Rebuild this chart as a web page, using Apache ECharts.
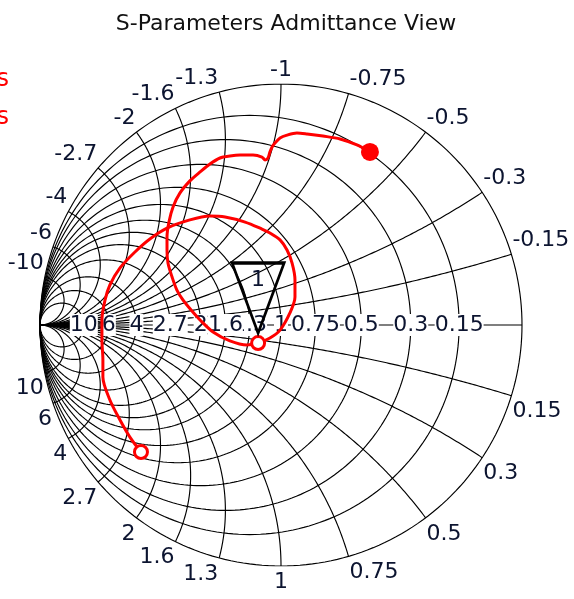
<!DOCTYPE html>
<html><head><meta charset="utf-8">
<script src="https://cdn.jsdelivr.net/npm/echarts@6/dist/echarts.min.js"></script>
<style>html,body{margin:0;padding:0;background:#fff}#c{width:574px;height:599px}</style>
</head><body><div id="c"></div>
<script>
const chartTitle = 'S-Parameters Admittance View';
const legendNames = ['S11 Ohms', 'S22 Ohms'];
const conductanceTicks = [0.15, 0.3, 0.5, 0.75, 1, 1.3, 1.6, 2, 2.7, 4, 6, 10];
const susceptanceTicks = [0.15, 0.3, 0.5, 0.75, 1, 1.3, 1.6, 2, 2.7, 4, 6, 10];
// trace 1 (reflection coefficient, real / imaginary)
const trace1Re = [0.369,0.315,0.245,0.174,0.108,0.066,0.025,-0.004,-0.025,-0.037,-0.046,-0.054,-0.066,-0.079,-0.116,-0.170,-0.212,-0.253,-0.295,-0.336,-0.378,-0.419,-0.448,-0.465,-0.473,-0.473,-0.469,-0.452,-0.432,-0.407,-0.373,-0.336,-0.282,-0.212,-0.141,-0.095];
const trace1Im = [0.718,0.747,0.772,0.784,0.793,0.797,0.788,0.776,0.755,0.739,0.718,0.693,0.685,0.697,0.705,0.705,0.701,0.693,0.668,0.635,0.598,0.548,0.490,0.427,0.365,0.311,0.257,0.199,0.145,0.104,0.062,0.021,-0.029,-0.066,-0.083,-0.075];
// trace 2
const trace2Re = [-0.095,-0.046,-0.004,0.037,0.058,0.058,0.046,0.025,-0.004,-0.046,-0.079,-0.149,-0.232,-0.295,-0.378,-0.473,-0.544,-0.606,-0.668,-0.710,-0.730,-0.743,-0.743,-0.739,-0.739,-0.710,-0.668,-0.627,-0.581];
const trace2Im = [-0.075,-0.054,-0.021,0.050,0.116,0.187,0.257,0.311,0.353,0.382,0.398,0.427,0.448,0.452,0.436,0.402,0.357,0.303,0.237,0.166,0.104,0.021,-0.062,-0.145,-0.216,-0.311,-0.394,-0.465,-0.527];
// marker 1
const markerRe = [-0.095];
const markerIm = [-0.075];
const markerLabels = ['1'];

const FONT = 'DejaVu Sans';
const TXT = '#0c1430';

function gam(g, b) {
  const d = (1 + g) * (1 + g) + b * b;
  return [(1 - g * g - b * b) / d, (-2 * b) / d];
}
function fmt(v) { return String(v); }

function gCircle(g, b1, b2) {
  const cx = -g / (1 + g), r = 1 / (1 + g);
  const ang = b => {
    if (b === -Infinity) return Math.PI;
    if (b === Infinity) return -Math.PI;
    const p = gam(g, b); return Math.atan2(p[1], p[0] - cx);
  };
  const a1 = ang(b1), a2 = ang(b2), n = 240, pts = [];
  for (let i = 0; i <= n; i++) { const a = a1 + (a2 - a1) * i / n; pts.push([cx + r * Math.cos(a), r * Math.sin(a)]); }
  return pts;
}
function bArc(b, g1, g2) {
  const cx = -1, cy = -1 / b, r = 1 / Math.abs(b);
  const ang = g => {
    if (g === Infinity) return b > 0 ? Math.PI / 2 : -Math.PI / 2;
    const p = gam(g, b); return Math.atan2(p[1] - cy, p[0] - cx);
  };
  const a1 = ang(g1), a2 = ang(g2), n = 200, pts = [];
  for (let i = 0; i <= n; i++) { const a = a1 + (a2 - a1) * i / n; pts.push([cx + r * Math.cos(a), cy + r * Math.sin(a)]); }
  return pts;
}

const gridLines = [];
gridLines.push({ coords: gCircle(0, -Infinity, Infinity) });
gridLines.push({ coords: [[-1, 0], [1, 0]] });
conductanceTicks.forEach(g => gridLines.push({ coords: gCircle(g, -Infinity, Infinity) }));
susceptanceTicks.forEach(b => {
  gridLines.push({ coords: bArc(b, 0, Infinity) });
  gridLines.push({ coords: bArc(-b, 0, Infinity) });
});

const edgeLabels = [];
susceptanceTicks.forEach(b => {
  [-b, b].forEach(v => {
    const p = gam(0, v);
    const align = Math.abs(p[0]) < 0.08 ? 'center' : (p[0] > 0 ? 'left' : 'right');
    const top = p[1] > 0;
    edgeLabels.push({
      value: p, name: fmt(v),
      label: { align: align, verticalAlign: top ? 'bottom' : 'top', offset: [align === 'left' ? 1 : (align === 'right' ? -1 : 0), top ? -3 : 5] }
    });
  });
});
const axisLabels = conductanceTicks.map(g => ({ value: gam(g, 0), name: fmt(g) }));

const chart = echarts.init(document.getElementById('c'), null, { renderer: 'canvas' });
const R = 241, CX = 281, CY = 325;
const lbl = { fontFamily: FONT, fontSize: 22, color: TXT, textBorderWidth: 0, textShadowBlur: 0, opacity: 1 };
const solid = { opacity: 1 };
chart.setOption({
  animation: false,
  backgroundColor: '#ffffff',
  title: { text: chartTitle, left: CX, textAlign: 'center', top: 8, textStyle: { fontFamily: FONT, fontSize: 22, fontWeight: 'normal', color: '#111' } },
  graphic: legendNames.map((n, i) => ({ type: 'text', right: 565, top: 68 + i * 38, style: { text: n, fill: '#ff0000', font: '24px "DejaVu Sans"' } })),
  grid: { left: CX - R, top: CY - R, width: 2 * R, height: 2 * R },
  xAxis: { type: 'value', min: -1, max: 1, show: false },
  yAxis: { type: 'value', min: -1, max: 1, show: false },
  series: [
    { type: 'lines', coordinateSystem: 'cartesian2d', polyline: true, silent: true, z: 1,
      lineStyle: { color: '#000', width: 1.15, opacity: 1 }, data: gridLines },
    { type: 'scatter', symbolSize: 0, z: 3, silent: true, itemStyle: solid,
      label: Object.assign({ show: true, position: 'inside', formatter: '{b}', backgroundColor: '#fff', padding: [0, 0] }, lbl),
      data: axisLabels },
    { type: 'scatter', symbolSize: 0, z: 3, silent: true, itemStyle: solid,
      label: Object.assign({ show: true, position: 'inside', formatter: '{b}' }, lbl),
      data: edgeLabels },
    { name: legendNames[0], type: 'line', z: 5, showSymbol: false, smooth: 0.3, lineStyle: { color: '#ff0000', width: 3 },
      data: trace1Re.map((v, i) => [v, trace1Im[i]]) },
    { name: legendNames[1], type: 'line', z: 5, showSymbol: false, smooth: 0.3, lineStyle: { color: '#ff0000', width: 3 },
      data: trace2Re.map((v, i) => [v, trace2Im[i]]) },
    { type: 'scatter', z: 6, symbol: 'circle', symbolSize: 18, itemStyle: { color: '#ff0000', opacity: 1 },
      data: [[trace1Re[0], trace1Im[0]]] },
    { type: 'scatter', z: 6, symbol: 'circle', symbolSize: 13, itemStyle: { color: '#fff', borderColor: '#ff0000', borderWidth: 3, opacity: 1 },
      data: [[trace2Re[0], trace2Im[0]], [trace2Re[trace2Re.length - 1], trace2Im[trace2Im.length - 1]]] },
    { type: 'scatter', z: 7, symbol: 'path://M0,0 L52,0 L26,70 Z', symbolSize: [52, 70], symbolOffset: [0, -45],
      itemStyle: { color: 'none', borderColor: '#000', borderWidth: 3, opacity: 1 },
      label: Object.assign({ show: true, position: 'inside', offset: [0, -18], formatter: p => markerLabels[p.dataIndex] }, lbl),
      data: markerRe.map((v, i) => [v, markerIm[i]]) }
  ]
});
</script></body></html>
